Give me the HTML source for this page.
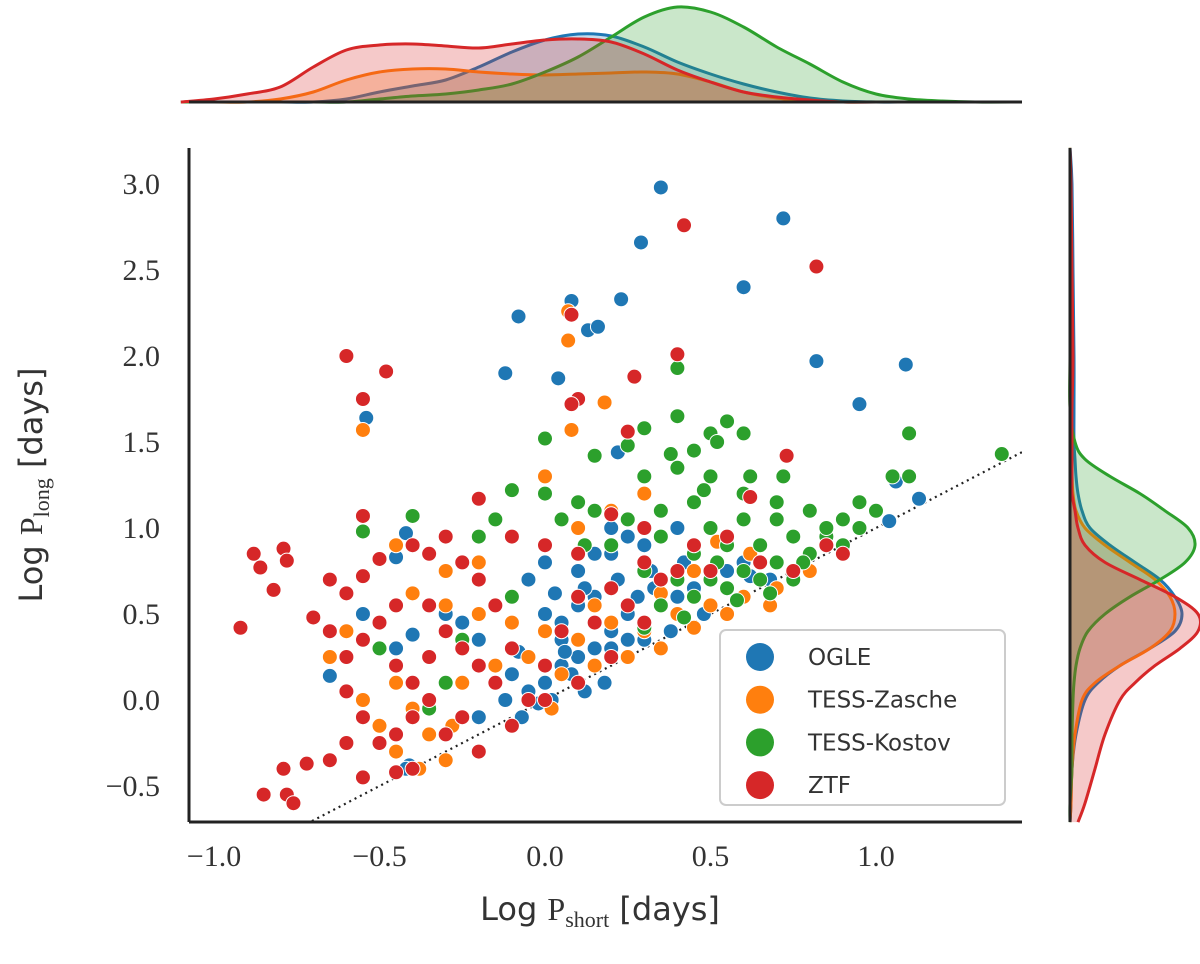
<!DOCTYPE html>
<html><head><meta charset="utf-8"><style>
body{margin:0;background:#fff}
svg text{font-family:"Liberation Serif",serif}
</style></head><body>
<svg id="c" width="1200" height="959" xmlns="http://www.w3.org/2000/svg">
<g id="main"></g>
<g id="topk"></g>
<g id="rightk"></g>
<g id="axes"></g>
</svg>
<script>
const seriesNames=["OGLE","TESS-Zasche","TESS-Kostov","ZTF"];
const colors=["#1f77b4","#ff7f0e","#2ca02c","#d62728"];
const xTicks=[-1.0,-0.5,0.0,0.5,1.0];
const xTickLabels=["−1.0","−0.5","0.0","0.5","1.0"];
const yTicks=[-0.5,0.0,0.5,1.0,1.5,2.0,2.5,3.0];
const yTickLabels=["−0.5","0.0","0.5","1.0","1.5","2.0","2.5","3.0"];
const ogle=[[0.35,2.98],[0.72,2.8],[0.29,2.66],[0.08,2.32],[0.23,2.33],[0.6,2.4],[-0.08,2.23],[0.13,2.15],[0.16,2.17],[0.82,1.97],[1.09,1.95],[-0.12,1.9],[0.04,1.87],[0.38,1.43],[0.95,1.72],[-0.54,1.64],[0.22,1.44],[1.13,1.17],[1.06,1.27],[1.04,1.04],[-0.42,0.97],[-0.45,0.83],[-0.65,0.14],[-0.41,-0.38],[-0.42,-0.4],[-0.07,-0.1],[0.0,0.5],[0.05,0.45],[0.1,0.55],[0.15,0.6],[0.2,0.4],[0.25,0.5],[0.3,0.45],[0.35,0.55],[0.4,0.6],[0.45,0.65],[0.5,0.7],[0.55,0.75],[0.6,0.8],[0.05,0.2],[0.1,0.25],[0.15,0.3],[0.2,0.3],[0.25,0.35],[0.3,0.35],[0.0,0.1],[-0.05,0.05],[0.02,0.0],[0.08,0.15],[-0.1,0.15],[-0.15,0.2],[-0.2,0.35],[-0.25,0.45],[-0.3,0.5],[-0.35,0.55],[-0.4,0.38],[-0.45,0.3],[-0.5,0.45],[-0.55,0.5],[0.1,0.75],[0.2,0.85],[0.3,0.9],[0.4,1.0],[0.2,1.0],[0.0,0.8],[-0.05,0.7],[0.12,0.65],[0.22,0.7],[0.32,0.75],[0.42,0.8],[0.48,0.5],[0.38,0.4],[0.18,0.1],[0.12,0.05],[-0.02,-0.02],[0.05,0.35],[-0.08,0.28],[0.28,0.6],[0.62,0.72],[0.68,0.7],[0.33,0.65],[0.25,0.95],[0.15,0.85],[-0.2,-0.1],[-0.12,0.0],[0.03,0.62],[0.06,0.28]];
const zasche=[[-0.55,1.57],[0.07,2.09],[0.07,2.26],[0.18,1.73],[0.08,1.57],[0.0,1.3],[-0.3,0.75],[-0.35,0.85],[-0.45,0.9],[-0.4,0.62],[-0.3,0.55],[-0.2,0.5],[-0.1,0.45],[0.0,0.4],[0.1,0.35],[0.2,0.45],[0.3,0.4],[0.4,0.5],[0.5,0.55],[0.6,0.6],[0.7,0.65],[-0.5,0.3],[-0.45,0.1],[-0.4,-0.05],[-0.35,-0.2],[-0.3,-0.35],[-0.38,-0.4],[-0.5,-0.15],[-0.55,0.0],[-0.25,0.1],[-0.15,0.2],[-0.05,0.25],[0.05,0.15],[0.15,0.2],[0.25,0.25],[0.35,0.3],[0.45,0.42],[0.55,0.5],[-0.2,0.8],[-0.1,0.95],[0.0,0.9],[0.1,1.0],[0.2,1.1],[0.3,1.2],[0.45,0.75],[0.52,0.92],[0.62,0.85],[0.8,0.75],[-0.6,0.4],[-0.65,0.25],[-0.45,-0.3],[-0.28,-0.15],[0.02,-0.05],[0.15,0.55],[0.35,0.62],[0.68,0.55]];
const kostov=[[0.4,1.93],[0.3,1.58],[0.4,1.35],[0.45,1.45],[0.5,1.55],[0.55,1.62],[0.6,1.55],[0.52,1.5],[0.4,1.65],[0.38,1.43],[0.25,1.48],[0.15,1.42],[0.0,1.52],[-0.1,1.22],[0.0,1.2],[0.1,1.15],[0.3,1.3],[0.5,1.3],[0.6,1.2],[0.7,1.15],[0.8,1.1],[0.9,1.05],[1.0,1.1],[1.05,1.3],[1.1,1.55],[1.1,1.3],[1.38,1.43],[0.95,1.0],[0.85,0.95],[0.75,0.95],[0.65,0.9],[0.55,0.9],[0.45,0.85],[0.35,0.95],[0.25,1.05],[0.15,1.1],[-0.15,1.05],[-0.2,0.95],[-0.4,1.07],[-0.55,0.98],[-0.35,-0.05],[-0.3,0.1],[-0.5,0.3],[0.5,0.7],[0.6,0.75],[0.7,0.8],[0.8,0.85],[0.55,0.65],[0.65,0.7],[0.45,0.6],[0.35,0.55],[0.3,0.75],[0.4,0.7],[0.2,0.9],[0.35,1.1],[0.45,1.15],[0.6,1.05],[0.5,1.0],[0.7,1.05],[0.85,1.0],[0.9,0.9],[0.95,1.15],[0.75,0.7],[0.58,0.58],[0.42,0.48],[0.3,0.42],[-0.1,0.6],[-0.25,0.35],[0.12,0.9],[0.05,1.05],[0.62,1.3],[0.72,1.3],[0.78,0.8],[0.68,0.62],[0.52,0.8],[0.48,1.22]];
const ztf=[[0.42,2.76],[0.82,2.52],[0.08,2.24],[0.4,2.01],[0.27,1.88],[0.1,1.75],[-0.6,2.0],[-0.48,1.91],[-0.55,1.75],[0.08,1.72],[0.25,1.56],[0.73,1.42],[-0.2,1.17],[-0.55,1.07],[-0.92,0.42],[-0.88,0.85],[-0.86,0.77],[-0.79,0.88],[-0.78,0.81],[-0.82,0.64],[-0.7,0.48],[-0.65,0.7],[-0.6,0.62],[-0.55,0.72],[-0.5,0.82],[-0.4,0.9],[-0.35,0.85],[-0.3,0.95],[-0.25,0.8],[-0.2,0.7],[-0.45,0.55],[-0.5,0.45],[-0.55,0.35],[-0.6,0.25],[-0.65,0.4],[-0.45,0.2],[-0.4,0.1],[-0.35,0.25],[-0.3,0.4],[-0.25,0.3],[-0.2,0.2],[-0.15,0.1],[-0.1,0.3],[-0.05,0.0],[0.0,0.2],[0.05,0.4],[0.1,0.6],[0.15,0.45],[0.2,0.65],[0.25,0.55],[0.3,0.8],[0.35,0.7],[0.45,0.9],[0.55,0.95],[0.65,0.8],[0.75,0.75],[0.9,0.85],[-0.6,0.05],[-0.55,-0.1],[-0.5,-0.25],[-0.45,-0.2],[-0.4,-0.1],[-0.35,0.0],[-0.3,-0.2],[-0.25,-0.1],[-0.2,-0.3],[-0.6,-0.25],[-0.65,-0.35],[-0.72,-0.37],[-0.79,-0.4],[-0.78,-0.55],[-0.76,-0.6],[-0.85,-0.55],[-0.55,-0.45],[-0.45,-0.42],[-0.4,-0.4],[-0.1,-0.15],[0.0,0.0],[0.1,0.1],[0.2,0.25],[0.3,0.45],[0.4,0.75],[0.1,0.85],[0.0,0.9],[-0.1,0.95],[0.2,1.08],[0.5,0.75],[0.62,1.18],[0.85,0.9],[0.3,1.0],[-0.15,0.55],[-0.35,0.55]];
const allSeries=[ogle,zasche,kostov,ztf];
const topGrid=[-1.1,-1.0,-0.9,-0.8,-0.7,-0.6,-0.5,-0.4,-0.3,-0.2,-0.1,0.0,0.1,0.2,0.3,0.4,0.5,0.6,0.7,0.8,0.9,1.0,1.1,1.2,1.3,1.44];
const topOgle=[0,0,0,0,0,3,10,16,22,35,50,62,68,66,55,40,28,18,10,4,1,0,0,0,0,0];
const topZasche=[0,0,0,3,10,22,30,33,33,30,28,27,28,29,30,28,20,10,4,1,0,0,0,0,0,0];
const topKostov=[0,0,0,0,0,0,3,6,8,12,18,30,45,65,85,95,90,75,55,38,20,8,3,1,0,0];
const topZtf=[0,3,8,15,35,52,57,58,56,54,58,62,63,60,48,32,20,10,5,2,0,0,0,0,0,0];
const rightGrid=[-0.71,-0.6,-0.4,-0.2,0.0,0.1,0.2,0.3,0.4,0.5,0.6,0.7,0.8,0.9,1.0,1.1,1.2,1.3,1.4,1.5,1.7,2.0,2.5,3.0,3.21];
const rightOgle=[0,1,2,6,15,28,50,80,105,112,105,90,65,40,20,12,8,6,5,4,4,4,3,2,0];
const rightZasche=[0,1,2,5,12,25,50,80,100,105,100,85,60,35,15,6,3,2,1,1,0,0,0,0,0];
const rightKostov=[0,0,2,2,3,4,6,10,18,35,60,90,115,125,118,95,70,40,15,5,0,0,0,0,0];
const rightZtf=[8,15,25,35,50,65,85,110,128,128,105,70,35,15,8,5,2,2,2,2,2,3,2,1,0];
const topData=[topOgle,topZasche,topKostov,topZtf];
const rightData=[rightOgle,rightZasche,rightKostov,rightZtf];

const NS="http://www.w3.org/2000/svg";
const X0=189,X1=1022,Y0=148,Y1=822;
const sx=v=>545+v*331, sy=v=>700-v*172;
function mk(tag,attrs,parent){const e=document.createElementNS(NS,tag);for(const k in attrs)e.setAttribute(k,attrs[k]);parent.appendChild(e);return e;}
function smooth(pts){let d='';for(let i=0;i<pts.length-1;i++){const p0=pts[Math.max(i-1,0)],p1=pts[i],p2=pts[i+1],p3=pts[Math.min(i+2,pts.length-1)];
const c1=[p1[0]+(p2[0]-p0[0])/6,p1[1]+(p2[1]-p0[1])/6],c2=[p2[0]-(p3[0]-p1[0])/6,p2[1]-(p3[1]-p1[1])/6];
d+=' C'+c1[0].toFixed(1)+','+c1[1].toFixed(1)+' '+c2[0].toFixed(1)+','+c2[1].toFixed(1)+' '+p2[0].toFixed(1)+','+p2[1].toFixed(1);}return d;}
const mainG=document.getElementById('main'),topG=document.getElementById('topk'),rightG=document.getElementById('rightk'),axesG=document.getElementById('axes');
const defs=mk('defs',{},document.getElementById('c'));
const cp=mk('clipPath',{id:'pc'},defs);mk('rect',{x:X0,y:Y0,width:X1-X0,height:Y1-Y0},cp);
mainG.setAttribute('clip-path','url(#pc)');
const diag=mk('line',{x1:sx(-0.72),y1:sy(-0.72),x2:sx(1.45),y2:sy(1.45),stroke:'#222','stroke-width':2.2,'stroke-dasharray':'2,4'},mainG);


allSeries.forEach((s,i)=>{s.forEach(p=>{const c=mk('circle',{cx:sx(p[0]),cy:sy(p[1]),r:7.5,fill:colors[i],stroke:'#fff','stroke-width':1},mainG);

});});
const TB=102;
topData.forEach((d,i)=>{let pts=topGrid.map((g,j)=>[sx(g),TB-d[j]]);
const line='M'+pts[0][0]+','+pts[0][1]+smooth(pts);
const a=mk('path',{d:line+' L'+pts[pts.length-1][0]+','+TB+' L'+pts[0][0]+','+TB+'Z',fill:colors[i],'fill-opacity':0.25,stroke:'none'},topG);


const l=mk('path',{d:line,fill:'none',stroke:colors[i],'stroke-width':3},topG);

});
const RB=1070;
rightData.forEach((d,i)=>{let pts=rightGrid.map((g,j)=>[RB+d[j],sy(g)]);
const line='M'+pts[0][0]+','+pts[0][1]+smooth(pts);
const a=mk('path',{d:line+' L'+RB+','+pts[pts.length-1][1]+' L'+RB+','+pts[0][1]+'Z',fill:colors[i],'fill-opacity':0.25,stroke:'none'},rightG);


const l=mk('path',{d:line,fill:'none',stroke:colors[i],'stroke-width':3},rightG);

});
[[X0,Y0,X0,Y1],[X0,Y1,X1,Y1],[X0,TB,X1,TB],[RB,Y0,RB,Y1]].forEach((s,i)=>{const e=mk('line',{x1:s[0],y1:s[1],x2:s[2],y2:s[3],stroke:'#222','stroke-width':3},axesG);

});
xTicks.forEach((t,i)=>{const e=mk('text',{x:sx(t),y:866,'font-size':30,'text-anchor':'middle',fill:'#333'},axesG);e.textContent=xTickLabels[i];

});
yTicks.forEach((t,i)=>{const e=mk('text',{x:160,y:sy(t)+10,'font-size':30,'text-anchor':'end',fill:'#333'},axesG);e.textContent=yTickLabels[i];

});
const lg=mk('g',{},axesG);


mk('rect',{x:720,y:630,width:285,height:175,rx:6,fill:'#fff','fill-opacity':0.85,stroke:'#ccc','stroke-width':2},lg);
seriesNames.forEach((n,i)=>{const y=657+i*42.7;
const c=mk('circle',{cx:760,cy:y,r:14,fill:colors[i]},lg);


const t=mk('text',{x:808,y:y+8,'font-size':23,fill:'#333',style:'font-family:"DejaVu Sans",sans-serif'},lg);t.textContent=n;

});
</script>
<svg style="position:absolute;left:0;top:0" width="1200" height="959">
<text x="600" y="920" text-anchor="middle" font-size="32" fill="#333" style="font-family:'DejaVu Sans',sans-serif">Log <tspan style="font-family:'Liberation Serif',serif">P</tspan><tspan font-size="22" dy="7" style="font-family:'Liberation Serif',serif">short</tspan><tspan dy="-7"> [days]</tspan></text>
<text transform="translate(42,485) rotate(-90)" text-anchor="middle" font-size="32" fill="#333" style="font-family:'DejaVu Sans',sans-serif">Log <tspan style="font-family:'Liberation Serif',serif">P</tspan><tspan font-size="22" dy="7" style="font-family:'Liberation Serif',serif">long</tspan><tspan dy="-7"> [days]</tspan></text>
</svg>
</body></html>
